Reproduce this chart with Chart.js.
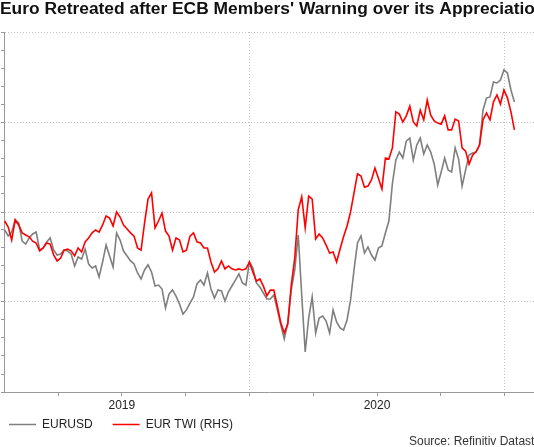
<!DOCTYPE html>
<html>
<head>
<meta charset="utf-8">
<title>Euro Retreated after ECB Members' Warning over its Appreciation</title>
<script src="https://cdn.jsdelivr.net/npm/chart.js@4.4.0/dist/chart.umd.min.js"></script>
<style>
  html, body { margin: 0; padding: 0; background: #fff; overflow: hidden; }
  canvas { display: block; }
</style>
</head>
<body>
<canvas id="euroChart" width="534" height="447"></canvas>
<script>
const TITLE = "Euro Retreated after ECB Members' Warning over its Appreciation";
const SOURCE = 'Source: Refinitiv Datastream';

// x range of the visible window
const X_START = '2019-01-15';
const X_END = '2021-02-12';

// year labels sit on the middle of each year
const yearLabels = ['2019', '2020'];

// one sample every 5 days
const dates = [
  '2019-01-16', '2019-01-21', '2019-01-26', '2019-01-31', '2019-02-05', '2019-02-10', '2019-02-15', '2019-02-20',
  '2019-02-25', '2019-03-02', '2019-03-07', '2019-03-12', '2019-03-17', '2019-03-22', '2019-03-27', '2019-04-01',
  '2019-04-06', '2019-04-11', '2019-04-16', '2019-04-21', '2019-04-26', '2019-05-01', '2019-05-06', '2019-05-11',
  '2019-05-16', '2019-05-21', '2019-05-26', '2019-05-31', '2019-06-05', '2019-06-10', '2019-06-15', '2019-06-20',
  '2019-06-25', '2019-06-30', '2019-07-05', '2019-07-10', '2019-07-15', '2019-07-20', '2019-07-25', '2019-07-30',
  '2019-08-04', '2019-08-09', '2019-08-14', '2019-08-19', '2019-08-24', '2019-08-29', '2019-09-03', '2019-09-08',
  '2019-09-13', '2019-09-18', '2019-09-23', '2019-09-28', '2019-10-03', '2019-10-08', '2019-10-13', '2019-10-18',
  '2019-10-23', '2019-10-28', '2019-11-02', '2019-11-07', '2019-11-12', '2019-11-17', '2019-11-22', '2019-11-27',
  '2019-12-02', '2019-12-07', '2019-12-12', '2019-12-17', '2019-12-22', '2019-12-27', '2020-01-01', '2020-01-06',
  '2020-01-11', '2020-01-16', '2020-01-21', '2020-01-26', '2020-01-31', '2020-02-05', '2020-02-10', '2020-02-15',
  '2020-02-20', '2020-02-25', '2020-03-01', '2020-03-06', '2020-03-11', '2020-03-16', '2020-03-21', '2020-03-26',
  '2020-03-31', '2020-04-05', '2020-04-10', '2020-04-15', '2020-04-20', '2020-04-25', '2020-04-30', '2020-05-05',
  '2020-05-10', '2020-05-15', '2020-05-20', '2020-05-25', '2020-05-30', '2020-06-04', '2020-06-09', '2020-06-14',
  '2020-06-19', '2020-06-24', '2020-06-29', '2020-07-04', '2020-07-09', '2020-07-14', '2020-07-19', '2020-07-24',
  '2020-07-29', '2020-08-03', '2020-08-08', '2020-08-13', '2020-08-18', '2020-08-23', '2020-08-28', '2020-09-02',
  '2020-09-07', '2020-09-12', '2020-09-17', '2020-09-22', '2020-09-27', '2020-10-02', '2020-10-07', '2020-10-12',
  '2020-10-17', '2020-10-22', '2020-10-27', '2020-11-01', '2020-11-06', '2020-11-11', '2020-11-16', '2020-11-21',
  '2020-11-26', '2020-12-01', '2020-12-06', '2020-12-11', '2020-12-16', '2020-12-21', '2020-12-26', '2020-12-31',
  '2021-01-05', '2021-01-10', '2021-01-15'
];

// EURUSD, left axis
const eurusd = [
  1.1400, 1.1367, 1.1389, 1.1456, 1.1439, 1.1339, 1.1322, 1.1356, 1.1378, 1.1389, 1.1289, 1.1300, 1.1333, 1.1356, 1.1289, 1.1261,
  1.1267, 1.1289, 1.1283, 1.1267, 1.1200, 1.1250, 1.1239, 1.1294, 1.1211, 1.1189, 1.1200, 1.1139, 1.1222, 1.1317, 1.1256, 1.1194,
  1.1383, 1.1344, 1.1283, 1.1256, 1.1228, 1.1211, 1.1161, 1.1128, 1.1178, 1.1206, 1.1167, 1.1089, 1.1094, 1.1072, 1.0967, 1.1044,
  1.1067, 1.1033, 1.0989, 1.0933, 1.0956, 1.0994, 1.1028, 1.1100, 1.1122, 1.1094, 1.1161, 1.1072, 1.1022, 1.1067, 1.1061, 1.1006,
  1.1056, 1.1089, 1.1122, 1.1156, 1.1106, 1.1094, 1.1222, 1.1189, 1.1106, 1.1083, 1.1050, 1.1017, 1.1017, 1.1039, 1.0956, 1.0872,
  1.0794, 1.0883, 1.1067, 1.1178, 1.1372, 1.1039, 1.0722, 1.0911, 1.1028, 1.0828, 1.0911, 1.0922, 1.0894, 1.0828, 1.0956, 1.0889,
  1.0856, 1.0844, 1.0900, 1.1011, 1.1178, 1.1328, 1.1367, 1.1272, 1.1306, 1.1261, 1.1233, 1.1300, 1.1311, 1.1383, 1.1450, 1.1656,
  1.1789, 1.1833, 1.1800, 1.1894, 1.1911, 1.1789, 1.1872, 1.1911, 1.1822, 1.1872, 1.1833, 1.1767, 1.1650, 1.1722, 1.1800, 1.1733,
  1.1722, 1.1856, 1.1794, 1.1644, 1.1733, 1.1817, 1.1828, 1.1833, 1.1872, 1.2067, 1.2133, 1.2139, 1.2222, 1.2217, 1.2233, 1.2289,
  1.2272, 1.2178, 1.2111
];

// EUR trade-weighted index, right axis
const eurTwi = [
  98.75, 98.58, 98.22, 98.78, 98.64, 98.42, 98.36, 98.31, 98.19, 98.14, 97.92, 98.00, 98.14, 98.11, 97.81, 97.64,
  97.72, 97.94, 97.97, 97.92, 97.78, 98.00, 97.89, 98.17, 98.28, 98.42, 98.50, 98.44, 98.64, 98.89, 98.83, 98.61,
  99.00, 98.86, 98.64, 98.53, 98.42, 98.33, 98.00, 97.94, 98.69, 99.36, 99.53, 98.56, 98.75, 98.97, 98.47, 98.33,
  97.94, 98.28, 98.22, 97.89, 97.94, 98.33, 98.42, 98.17, 98.14, 98.00, 98.00, 97.61, 97.33, 97.42, 97.64, 97.42,
  97.50, 97.42, 97.39, 97.42, 97.39, 97.42, 97.61, 97.33, 97.08, 97.14, 96.94, 96.67, 96.83, 96.83, 96.39, 95.92,
  95.64, 95.89, 96.97, 97.72, 99.06, 99.42, 98.56, 99.44, 99.36, 98.25, 98.39, 98.28, 98.08, 97.86, 97.89, 97.61,
  97.97, 98.31, 98.61, 99.00, 99.53, 100.06, 100.00, 99.69, 99.72, 99.89, 100.22, 99.94, 99.64, 100.50, 100.47, 100.78,
  101.78, 101.72, 101.50, 101.67, 101.94, 101.50, 101.39, 101.83, 101.56, 102.11, 101.69, 101.53, 101.47, 101.44, 101.67, 101.28,
  101.28, 101.58, 101.53, 100.78, 100.69, 100.33, 100.58, 100.67, 100.86, 101.56, 101.75, 101.56, 102.06, 102.25, 102.00, 102.39,
  102.17, 101.78, 101.28
];

const FONT = '"Liberation Sans", Arial, sans-serif';
const GRID = '#c4c4c4';
const AXIS = '#9a9a9a';

// date string -> fractional year
function yearFraction(s) {
  const [y, m, d] = s.split('-').map(Number);
  const a = Date.UTC(y, 0, 1);
  const b = Date.UTC(y + 1, 0, 1);
  return y + (Date.UTC(y, m - 1, d) - a) / (b - a);
}

function near(a, b) {
  return Math.abs(a - b) < 1e-6;
}

const usdPoints = dates.map((d, i) => ({ x: yearFraction(d), y: eurusd[i] }));
const twiPoints = dates.map((d, i) => ({ x: yearFraction(d), y: eurTwi[i] }));

// title (runs off the right edge like the original crop), source note,
// and a nudge so the legend items sit closer to the left edge
const extras = {
  id: 'extras',
  afterLayout(chart) {
    chart.legend.left -= 11;
    chart.legend.top -= 11;
  },
  afterDraw(chart) {
    const ctx = chart.ctx;
    ctx.save();
    ctx.font = 'bold 17.4px ' + FONT;
    ctx.fillStyle = '#111';
    ctx.textBaseline = 'alphabetic';
    ctx.fillText(TITLE, 0, 13.5);
    ctx.font = '12px ' + FONT;
    ctx.fillStyle = '#333';
    ctx.textBaseline = 'middle';
    ctx.fillText(SOURCE, 409, 442);
    ctx.restore();
  }
};

new Chart(document.getElementById('euroChart'), {
  type: 'line',
  data: {
    datasets: [
      {
        label: 'EURUSD',
        data: usdPoints,
        yAxisID: 'y',
        borderColor: '#7f7f7f',
        backgroundColor: '#7f7f7f',
        borderWidth: 1.6,
        pointRadius: 0,
        tension: 0,
        order: 1
      },
      {
        label: 'EUR TWI (RHS)',
        data: twiPoints,
        yAxisID: 'y2',
        borderColor: '#ff0000',
        backgroundColor: '#ff0000',
        borderWidth: 1.6,
        pointRadius: 0,
        tension: 0,
        order: 0
      }
    ]
  },
  options: {
    responsive: false,
    animation: false,
    events: [],
    layout: { padding: { left: 0, right: 0, top: 32, bottom: 7.5 } },
    plugins: {
      title: { display: false },
      legend: {
        position: 'bottom',
        align: 'start',
        maxHeight: 30,
        labels: {
          usePointStyle: true,
          pointStyle: 'line',
          pointStyleWidth: 27,
          padding: 20,
          color: '#222',
          font: { family: FONT, size: 12 },
          sort: (a, b) => a.datasetIndex - b.datasetIndex
        }
      },
      tooltip: { enabled: false }
    },
    scales: {
      x: {
        type: 'linear',
        position: 'bottom',
        min: yearFraction(X_START),
        max: yearFraction(X_END),
        afterFit(scale) { scale.height = 17.5; },
        ticks: {
          stepSize: 0.25,
          includeBounds: false,
          autoSkip: false,
          maxRotation: 0,
          padding: 2,
          color: '#222',
          font: { family: FONT, size: 12 },
          callback(value) {
            const y = Math.floor(value + 1e-6);
            if (!near(value - y, 0.5)) return '';
            const idx = y - 2019;
            return yearLabels[idx] || '';
          }
        },
        grid: {
          color: ctx => (ctx.tick && near(ctx.tick.value, Math.round(ctx.tick.value)) ? GRID : 'rgba(0,0,0,0)'),
          lineWidth: 1,
          tickLength: 4,
          tickColor: AXIS
        },
        border: { color: AXIS, width: 1, dash: [1, 2] }
      },
      y: {
        position: 'left',
        min: 1.05,
        max: 1.25,
        afterFit(scale) { scale.width = 4; },
        ticks: { stepSize: 0.01, display: false, autoSkip: false },
        grid: {
          color: ctx => {
            const v = ctx.tick ? ctx.tick.value : 0;
            return near(v * 20, Math.round(v * 20)) && v > 1.06 ? GRID : 'rgba(0,0,0,0)';
          },
          lineWidth: 1,
          tickLength: 3,
          tickColor: AXIS
        },
        border: { color: AXIS, width: 1, dash: [1, 2] }
      },
      y2: {
        position: 'right',
        display: false,
        min: 94,
        max: 104
      }
    }
  },
  plugins: [extras]
});
</script>
</body>
</html>
